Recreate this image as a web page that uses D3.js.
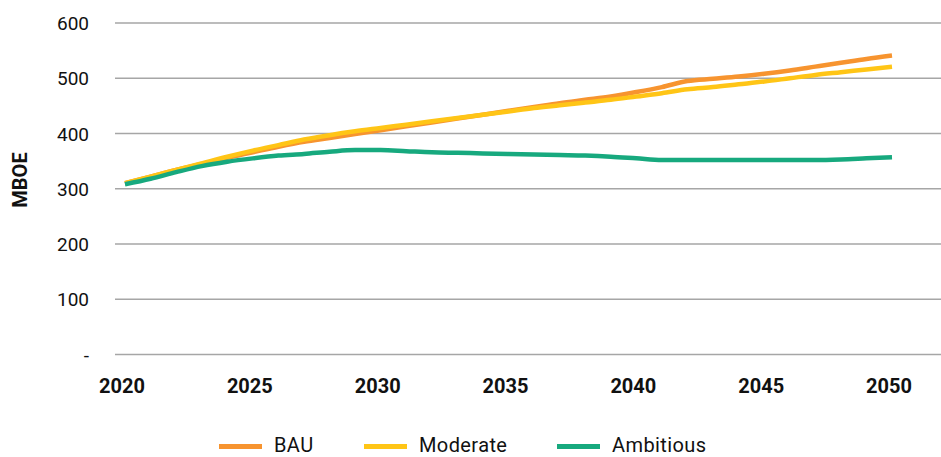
<!DOCTYPE html>
<html>
<head>
<meta charset="UTF-8">
<title>MBOE scenarios</title>
<script src="https://cdn.jsdelivr.net/npm/d3@7"></script>
<style>
  body { margin: 0; background: #fff; }
  text { font-family: Roboto, "DejaVu Sans", sans-serif; fill: #111; }
</style>
</head>
<body>
<svg id="chart" width="941" height="457"></svg>
<script>
// years on the x axis
var years = d3.range(2020, 2051);
var xTicks = [2020, 2025, 2030, 2035, 2040, 2045, 2050];
var yTicks = [0, 100, 200, 300, 400, 500, 600];
var yTickLabels = ["-", "100", "200", "300", "400", "500", "600"];

// series values (MBOE)
var bau = [310, 322, 334, 345, 356, 366, 376, 385, 392, 399, 406, 413, 420, 427, 434, 441,
           448, 455, 461, 467, 475, 484, 495, 499, 503, 508, 514, 521, 528, 535, 541];
var moderate = [310, 322, 334, 346, 358, 369, 379, 389, 397, 404, 410, 416, 422, 428, 434, 440,
                446, 451, 456, 461, 467, 473, 480, 484, 489, 494, 500, 506, 511, 516, 521];
var ambitious = [308, 318, 330, 341, 349, 355, 360, 363, 367, 370, 370, 368, 366, 365, 364, 363,
                 362, 361, 360, 358, 355, 352, 352, 352, 352, 352, 352, 352, 353, 355, 357];

var seriesNames = ["BAU", "Moderate", "Ambitious"];
var seriesColors = ["#f7942f", "#ffc516", "#17a97e"];
var seriesValues = [bau, moderate, ambitious];

var svg = d3.select("#chart");

var x = d3.scaleLinear().domain([2020, 2050]).range([125, 892]);
var y = d3.scaleLinear().domain([0, 600]).range([354.5, 23]);

// gridlines
svg.append("g").selectAll("line")
  .data(yTicks)
  .enter().append("line")
  .attr("x1", 115).attr("x2", 941)
  .attr("y1", function (d) { return y(d); })
  .attr("y2", function (d) { return y(d); })
  .attr("stroke", "#a6a6a6")
  .attr("stroke-width", 1.5);

// y labels
svg.append("g").selectAll("text")
  .data(yTicks)
  .enter().append("text")
  .attr("x", 89)
  .attr("y", function (d) { return y(d) + 7; })
  .attr("text-anchor", "end")
  .style("font-size", "19px")
  .text(function (d, i) { return yTickLabels[i]; });

// x labels
svg.append("g").selectAll("text")
  .data(xTicks)
  .enter().append("text")
  .attr("x", function (d) { return x(d) - 3; })
  .attr("y", 393)
  .attr("text-anchor", "middle")
  .style("font-size", "20px")
  .style("font-weight", "bold")
  .text(function (d) { return d; });

// axis title
svg.append("text")
  .attr("transform", "translate(27,180) rotate(-90)")
  .attr("text-anchor", "middle")
  .style("font-size", "20px")
  .style("font-weight", "bold")
  .text("MBOE");

// lines
var line = d3.line()
  .x(function (d, i) { return x(years[i]); })
  .y(function (d) { return y(d); })
  .curve(d3.curveMonotoneX);

svg.append("g").selectAll("path")
  .data(seriesValues)
  .enter().append("path")
  .attr("d", line)
  .attr("fill", "none")
  .attr("stroke", function (d, i) { return seriesColors[i]; })
  .attr("stroke-width", 4.5);

// legend - kept a little high so the text box stays inside the frame
var legendX = [219, 364, 557];
var legend = svg.append("g").selectAll("g")
  .data(seriesNames)
  .enter().append("g")
  .attr("transform", function (d, i) { return "translate(" + legendX[i] + ",446.5)"; });

legend.append("line")
  .attr("x1", 0).attr("x2", 43)
  .attr("y1", 0).attr("y2", 0)
  .attr("stroke", function (d, i) { return seriesColors[i]; })
  .attr("stroke-width", 5);

legend.append("text")
  .attr("x", 55)
  .attr("y", 5)
  .style("font-size", "20px")
  .style("letter-spacing", "0.4px")
  .text(function (d) { return d; });
</script>
</body>
</html>
